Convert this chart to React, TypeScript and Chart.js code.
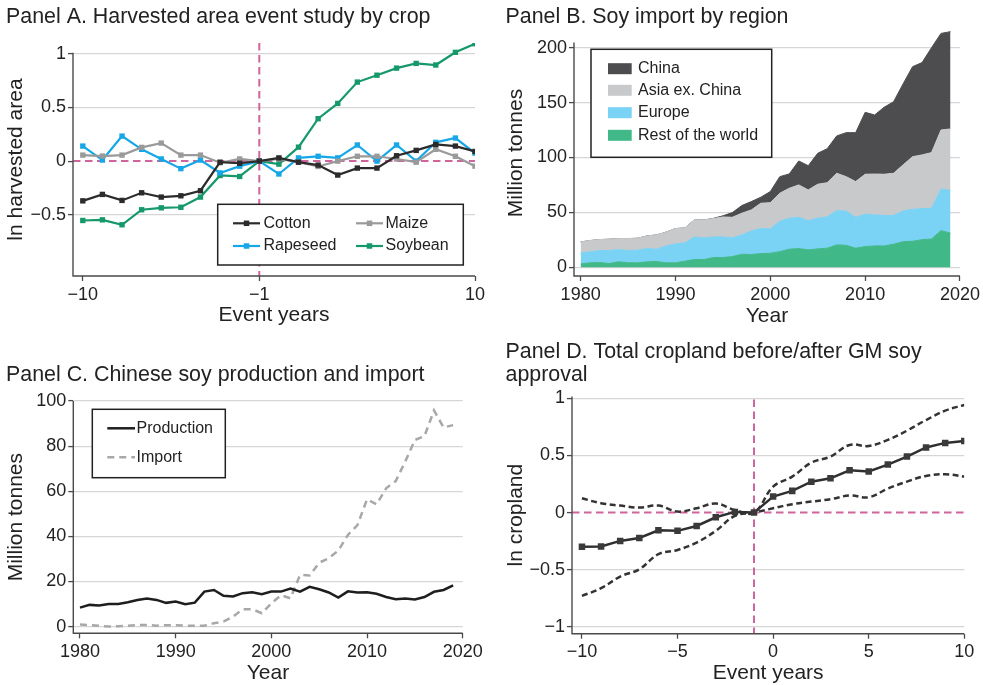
import React, { useEffect, useRef } from 'react';
import { Chart, registerables } from 'chart.js';

Chart.register(...registerables);
Chart.defaults.font.family = "'Liberation Sans', Arial, Helvetica, sans-serif";
Chart.defaults.color = '#222222';

// ---------------- Panel A data ----------------
const eventYears = [-10, -9, -8, -7, -6, -5, -4, -3, -2, -1, 0, 1, 2, 3, 4, 5, 6, 7, 8, 9, 10];
const cotton = [-0.37, -0.31, -0.366, -0.295, -0.335, -0.323, -0.276, -0.01, -0.02, 0, 0.03, -0.01, -0.037, -0.13, -0.065, -0.065, 0.05, 0.1, 0.155, 0.14, 0.09];
const maize = [0.056, 0.047, 0.056, 0.128, 0.168, 0.056, 0.056, -0.015, 0.02, 0, 0.02, -0.01, -0.05, 0.0, 0.045, 0.045, 0.02, -0.01, 0.11, 0.045, -0.047];
const rapeseed = [0.14, 0.01, 0.233, 0.11, 0.02, -0.07, 0.01, -0.11, -0.047, 0, -0.12, 0.03, 0.045, 0.03, 0.15, 0.0, 0.15, 0.0, 0.175, 0.215, 0.075];
const soybean = [-0.553, -0.547, -0.593, -0.453, -0.435, -0.43, -0.335, -0.134, -0.143, 0, -0.028, 0.13, 0.395, 0.537, 0.736, 0.8, 0.866, 0.91, 0.895, 1.013, 1.093];
const ticksA_x = [-10, -1, 10];
const ticksA_y = [-0.5, 0, 0.5, 1];

// ---------------- Panel B data ----------------
const yearsB = [1980, 1981, 1982, 1983, 1984, 1985, 1986, 1987, 1988, 1989, 1990, 1991, 1992, 1993, 1994, 1995, 1996, 1997, 1998, 1999, 2000, 2001, 2002, 2003, 2004, 2005, 2006, 2007, 2008, 2009, 2010, 2011, 2012, 2013, 2014, 2015, 2016, 2017, 2018, 2019];
const restOfWorld = [3, 4, 4.3, 3.3, 4.9, 4, 4, 4.9, 5.2, 4, 4, 5.5, 7, 7, 8.8, 8.8, 9.7, 11.8, 11.5, 12.4, 12.7, 14.2, 16.4, 17, 15.8, 16.7, 17.3, 20.3, 20, 17.3, 18.8, 19.4, 19.4, 20.9, 23.3, 23.6, 25.1, 25.7, 33.3, 31];
const europe = [10, 10, 10.9, 11.9, 11.2, 11.2, 11.5, 12.1, 11.2, 15.4, 17.2, 16.7, 20.6, 19.7, 18.8, 18.8, 17, 17.6, 21.5, 22.8, 22.2, 27.7, 28.2, 28.5, 26.6, 27.9, 28.7, 31.2, 31.2, 28.2, 29.5, 28.3, 27.7, 26.2, 27.9, 29.2, 28.3, 28, 38, 38.8];
const asiaExChina = [10, 10.3, 10, 10.3, 10, 10.9, 10.9, 11.5, 13, 12.5, 14, 13.6, 15.6, 16.3, 16.7, 18.2, 18.8, 19.8, 19.2, 23.1, 23.9, 25.5, 27.3, 29.5, 28, 31, 31, 34.1, 31.3, 32.5, 36.4, 37.2, 37.6, 38.5, 42, 47.9, 48.9, 50.7, 53.7, 56.2];
const chinaImport = [0, 0, 0, 0, 0, 0, 0, 0, 0, 0, 0, 0, 0, 0, 0.2, 1, 4.3, 7, 7.6, 5.5, 10.1, 15.1, 13.1, 21.8, 22.1, 28.2, 31, 34, 40.1, 44.6, 56.4, 53.8, 61, 65.2, 73.8, 82, 84.1, 95.6, 88, 88.6];
const ticksB_x = [1980, 1990, 2000, 2010, 2020];
const ticksB_y = [0, 50, 100, 150, 200];

// ---------------- Panel C data ----------------
const yearsC = yearsB;
const production = [8.4, 9.6, 9.3, 10, 10, 10.8, 11.8, 12.4, 11.8, 10.5, 11.1, 9.9, 10.6, 15.5, 16.2, 13.6, 13.3, 14.8, 15.2, 14.3, 15.5, 15.5, 16.8, 15.5, 17.6, 16.5, 15.1, 12.8, 15.6, 15.1, 15.2, 14.5, 13.1, 12.1, 12.4, 12, 13.1, 15.4, 16.2, 18.2];
const imports = [0.9, 0.6, 0.3, 0, 0.15, 0.3, 0.6, 0.7, 0.4, 0.6, 0.6, 0.4, 0.4, 0.4, 1.5, 2.2, 4.4, 7.7, 7.7, 5.9, 10.3, 13.9, 12.5, 22.9, 22.6, 28.3, 30.3, 33.7, 40.6, 45, 56.4, 54.2, 61.3, 64.5, 73.2, 82.7, 84.4, 95.8, 88.3, 89.3];
const ticksC_x = [1980, 1990, 2000, 2010, 2020];
const ticksC_y = [0, 20, 40, 60, 80, 100];

// ---------------- Panel D data ----------------
const estimate = [-0.3, -0.297, -0.248, -0.222, -0.155, -0.16, -0.117, -0.041, 0.006, 0, 0.14, 0.19, 0.27, 0.3, 0.37, 0.36, 0.42, 0.49, 0.57, 0.61, 0.627];
const upperCI = [0.125, 0.082, 0.061, 0.044, 0.061, 0.009, 0.038, 0.079, 0.023, 0, 0.227, 0.315, 0.437, 0.49, 0.592, 0.583, 0.636, 0.717, 0.81, 0.892, 0.942];
const lowerCI = [-0.729, -0.662, -0.56, -0.496, -0.364, -0.327, -0.262, -0.16, -0.029, 0, 0.038, 0.073, 0.096, 0.117, 0.149, 0.134, 0.21, 0.271, 0.321, 0.335, 0.315];
const ticksD_x = [-10, -5, 0, 5, 10];
const ticksD_y = [-1, -0.5, 0, 0.5, 1];

// ---------------- styles ----------------
const PINK = '#d0659d';
const GRID = '#d6d6d6';
const AXIS = '#4a4a4a';
const TEXT = '#222222';
const FONT = "'Liberation Sans', Arial, Helvetica, sans-serif";
const TITLE_SIZE = 21.4;

const fmt = (v: number) => (v < 0 ? '\u2212' : '') + String(Math.abs(v));
const pts = (xs: number[], ys: number[]) => xs.map((x, i) => ({ x, y: ys[i] }));

const decorPlugin: any = {
  id: 'decor',
  beforeDatasetsDraw(chart: any, _a: any, o: any) {
    const { ctx, chartArea: ca, scales } = chart;
    const x = scales.x, y = scales.y;
    ctx.save();
    ctx.strokeStyle = PINK;
    ctx.lineWidth = 2;
    ctx.setLineDash([7.5, 4.5]);
    if (o.hLine != null) {
      const py = y.getPixelForValue(o.hLine);
      ctx.beginPath(); ctx.moveTo(ca.left, py); ctx.lineTo(ca.right, py); ctx.stroke();
    }
    if (o.vLine != null) {
      const px = x.getPixelForValue(o.vLine);
      const top = o.vLineTop != null ? y.getPixelForValue(o.vLineTop) : ca.top;
      ctx.beginPath(); ctx.moveTo(px, top); ctx.lineTo(px, ca.bottom); ctx.stroke();
    }
    ctx.restore();
  },
  afterDraw(chart: any, _a: any, o: any) {
    const { ctx, chartArea: ca, scales } = chart;
    const y = scales.y;
    ctx.save();
    ctx.strokeStyle = AXIS;
    ctx.lineWidth = 1.4;
    const yt = o.yAxisTop != null ? y.getPixelForValue(o.yAxisTop) : ca.top;
    ctx.beginPath();
    ctx.moveTo(ca.left, yt);
    ctx.lineTo(ca.left, ca.bottom);
    ctx.lineTo(ca.right, ca.bottom);
    ctx.stroke();
    const leg = o.legend;
    if (leg) {
      const [x1, y1, x2, y2] = leg.box;
      ctx.fillStyle = '#ffffff';
      ctx.fillRect(x1, y1, x2 - x1, y2 - y1);
      ctx.strokeStyle = '#222222';
      ctx.lineWidth = 1.5;
      ctx.strokeRect(x1, y1, x2 - x1, y2 - y1);
      ctx.font = `16px ${FONT}`;
      ctx.textBaseline = 'middle';
      ctx.textAlign = 'left';
      for (const it of leg.items) {
        const ds = chart.data.datasets[it.ds];
        if (it.kind === 'swatch') {
          ctx.fillStyle = ds.backgroundColor;
          ctx.fillRect(it.x1, it.y - it.h / 2, it.x2 - it.x1, it.h);
        } else {
          ctx.strokeStyle = ds.borderColor;
          ctx.lineWidth = ds.borderWidth;
          ctx.setLineDash(ds.borderDash || []);
          ctx.beginPath(); ctx.moveTo(it.x1, it.y); ctx.lineTo(it.x2, it.y); ctx.stroke();
          ctx.setLineDash([]);
          if (it.kind === 'lineMarker') {
            const s = 5.5;
            ctx.fillStyle = ds.borderColor;
            ctx.fillRect((it.x1 + it.x2) / 2 - s / 2, it.y - s / 2, s, s);
          }
        }
        ctx.fillStyle = TEXT;
        ctx.fillText(ds.label, it.tx, it.y);
      }
    }
    ctx.restore();
  },
};

function yScale(min: number, max: number, ticks: number[], width: number, title: string, padTop: number, stacked = false, hideZeroGrid = false) {
  return {
    type: 'linear', min, max, stacked,
    afterBuildTicks: (s: any) => { s.ticks = ticks.map((v) => ({ value: v })); },
    afterFit: (s: any) => { s.width = width; },
    grid: {
      color: (c: any) => (hideZeroGrid && c.tick && c.tick.value === 0 ? 'rgba(0,0,0,0)' : GRID),
      lineWidth: 1.2, tickColor: AXIS, tickLength: 5, tickWidth: 1.3,
    },
    border: { display: false },
    ticks: { font: { size: 18 }, color: TEXT, padding: 2, autoSkip: false, callback: (v: any) => fmt(Number(v)) },
    title: { display: true, text: title, color: TEXT, font: { size: 21, lineHeight: 1 }, padding: { top: padTop, bottom: 0 } },
  };
}

function xScale(min: number, max: number, ticks: number[], height: number, title: string, padBottom: number) {
  return {
    type: 'linear', min, max,
    afterBuildTicks: (s: any) => { s.ticks = ticks.map((v) => ({ value: v })); },
    afterFit: (s: any) => { s.height = height; },
    grid: { drawOnChartArea: false, tickColor: AXIS, tickLength: 5, tickWidth: 1.3 },
    border: { display: false },
    ticks: { font: { size: 18 }, color: TEXT, padding: 3, autoSkip: false, maxRotation: 0, callback: (v: any) => fmt(Number(v)) },
    title: { display: true, text: title, color: TEXT, font: { size: 21, lineHeight: 1 }, padding: { top: 0, bottom: padBottom } },
  };
}

function baseOptions(padding: any, title: any, decor: any, scales: any) {
  return {
    responsive: false,
    maintainAspectRatio: false,
    animation: false,
    devicePixelRatio: 1,
    events: [],
    layout: { padding },
    plugins: {
      legend: { display: false },
      tooltip: { enabled: false },
      title: { display: true, align: 'start', color: TEXT, ...title },
      decor,
    },
    scales,
  };
}

function lineMarkerDs(label: string, ys: number[], color: string) {
  return {
    label, data: pts(eventYears, ys), borderColor: color, backgroundColor: color,
    borderWidth: 2.2, pointStyle: 'rect', pointRadius: 3.8, pointBorderWidth: 0,
    pointBackgroundColor: color, tension: 0, fill: false,
  };
}

function configA(): any {
  return {
    type: 'line',
    data: {
      datasets: [
        lineMarkerDs('Cotton', cotton, '#2b2b2b'),
        lineMarkerDs('Maize', maize, '#9a9a9a'),
        lineMarkerDs('Rapeseed', rapeseed, '#16a7e6'),
        lineMarkerDs('Soybean', soybean, '#16996a'),
      ],
    },
    options: baseOptions(
      { left: 6, right: 15, top: 0, bottom: 0 },
      { text: 'Panel A. Harvested area event study by crop', font: { size: TITLE_SIZE, weight: 'normal', lineHeight: 1.2 }, padding: { top: 4.16, bottom: 13.16 } },
      {
        hLine: 0, vLine: -1, yAxisTop: 1.01,
        legend: {
          box: [217.7, 204.3, 463.3, 265],
          items: [
            { ds: 0, kind: 'lineMarker', x1: 233, x2: 260, y: 223.3, tx: 263.5 },
            { ds: 1, kind: 'lineMarker', x1: 356, x2: 383, y: 223.3, tx: 385.5 },
            { ds: 2, kind: 'lineMarker', x1: 233, x2: 260, y: 246, tx: 263.5 },
            { ds: 3, kind: 'lineMarker', x1: 356, x2: 383, y: 246, tx: 385.5 },
          ],
        },
      },
      {
        x: xScale(-10.5, 10, ticksA_x, 64, 'Event years', 14.5),
        y: yScale(-1.07, 1.1, ticksA_y, 67, 'ln harvested area', 0, false, true),
      }
    ),
    plugins: [decorPlugin],
  };
}

function areaDs(label: string, ys: number[], color: string, fill: any) {
  return {
    label, data: pts(yearsB, ys), borderColor: color, backgroundColor: color,
    borderWidth: 1, pointRadius: 0, tension: 0, fill,
  };
}

function configB(): any {
  return {
    type: 'line',
    data: {
      datasets: [
        areaDs('Rest of the world', restOfWorld, '#41b887', 'origin'),
        areaDs('Europe', europe, '#7ad2f5', '-1'),
        areaDs('Asia ex. China', asiaExChina, '#c8c9cb', '-1'),
        areaDs('China', chinaImport, '#4d4d4f', '-1'),
      ],
    },
    options: baseOptions(
      { left: 15.5, right: 22.3, top: 0, bottom: 0 },
      { text: 'Panel B. Soy import by region', font: { size: TITLE_SIZE, weight: 'normal', lineHeight: 1.2 }, padding: { top: 3.86, bottom: 0.56 } },
      {
        yAxisTop: 204.6,
        legend: {
          box: [101, 49.3, 281.7, 157.3],
          items: [
            { ds: 3, kind: 'swatch', x1: 118, x2: 141.7, h: 11, y: 68.7, tx: 148 },
            { ds: 2, kind: 'swatch', x1: 118, x2: 141.7, h: 11, y: 90.3, tx: 148 },
            { ds: 1, kind: 'swatch', x1: 118, x2: 141.7, h: 11, y: 112.7, tx: 148 },
            { ds: 0, kind: 'swatch', x1: 118, x2: 141.7, h: 11, y: 135.3, tx: 148 },
          ],
        },
      },
      {
        x: xScale(1979.3, 2020, ticksB_x, 64, 'Year', 13.5),
        y: yScale(-8, 216, ticksB_y, 68.5, 'Million tonnes', 0.6, true),
      }
    ),
    plugins: [decorPlugin],
  };
}

function configC(): any {
  return {
    type: 'line',
    data: {
      datasets: [
        { label: 'Production', data: pts(yearsC, production), borderColor: '#1e1e1e', backgroundColor: '#1e1e1e', borderWidth: 2.5, pointRadius: 0, tension: 0, fill: false },
        { label: 'Import', data: pts(yearsC, imports), borderColor: '#a8a8a8', backgroundColor: '#a8a8a8', borderWidth: 2.5, borderDash: [7, 5], pointRadius: 0, tension: 0, fill: false },
      ],
    },
    options: baseOptions(
      { left: 6, right: 27.3, top: 0, bottom: 0 },
      { text: 'Panel C. Chinese soy production and import', font: { size: TITLE_SIZE, weight: 'normal', lineHeight: 1.2 }, padding: { top: 22.16, bottom: 13.16 } },
      {
        legend: {
          box: [92.3, 69.3, 225.3, 137.7],
          items: [
            { ds: 0, kind: 'line', x1: 107.3, x2: 135, y: 88.3, tx: 136.5 },
            { ds: 1, kind: 'line', x1: 107.3, x2: 135, y: 117.3, tx: 136.5 },
          ],
        },
      },
      {
        x: xScale(1979.3, 2020, ticksC_x, 51.7, 'Year', 1.2),
        y: yScale(-3, 100, ticksC_y, 67.3, 'Million tonnes', 0),
      }
    ),
    plugins: [decorPlugin],
  };
}

function configD(): any {
  return {
    type: 'line',
    data: {
      datasets: [
        { label: 'Estimate', data: pts(eventYears, estimate), borderColor: '#2f2f2f', backgroundColor: '#3a3a3a', borderWidth: 2.5, pointStyle: 'rect', pointRadius: 4.6, pointBorderWidth: 0, pointBackgroundColor: '#3a3a3a', tension: 0, fill: false },
        { label: 'Upper', data: pts(eventYears, upperCI), borderColor: '#333333', borderWidth: 2.5, borderDash: [6, 3.5], pointRadius: 0, tension: 0.4, fill: false },
        { label: 'Lower', data: pts(eventYears, lowerCI), borderColor: '#333333', borderWidth: 2.5, borderDash: [6, 3.5], pointRadius: 0, tension: 0.4, fill: false },
      ],
    },
    options: baseOptions(
      { left: 15.5, right: 18.7, top: 0, bottom: 0 },
      { text: ['Panel D. Total cropland before/after GM soy', 'approval'], font: { size: TITLE_SIZE, weight: 'normal', lineHeight: 1.089 }, padding: { top: 0, bottom: 10 } },
      { hLine: 0, vLine: -1, vLineTop: 0.99, yAxisTop: 1.015 },
      {
        x: xScale(-10.52, 10, ticksD_x, 51.3, 'Event years', 1.2),
        y: yScale(-1.06, 1.015, ticksD_y, 66.5, 'ln cropland', 0.7, false, true),
      }
    ),
    plugins: [decorPlugin],
  };
}

function Panel(props: { left: number; top: number; width: number; height: number; build: () => any }) {
  const ref = useRef<HTMLCanvasElement>(null);
  useEffect(() => {
    const chart = new Chart(ref.current as HTMLCanvasElement, props.build());
    return () => chart.destroy();
  }, []);
  return (
    <canvas
      ref={ref}
      width={props.width}
      height={props.height}
      style={{ position: 'absolute', left: props.left, top: props.top, width: props.width, height: props.height, display: 'block' }}
    />
  );
}

export default function App() {
  return (
    <div style={{ position: 'absolute', left: 0, top: 0, width: 983, height: 685, background: '#ffffff', overflow: 'hidden' }}>
      <Panel left={0} top={0} width={490} height={340} build={configA} />
      <Panel left={490} top={0} width={493} height={340} build={configB} />
      <Panel left={0} top={340} width={490} height={345} build={configC} />
      <Panel left={490} top={340} width={493} height={345} build={configD} />
    </div>
  );
}
